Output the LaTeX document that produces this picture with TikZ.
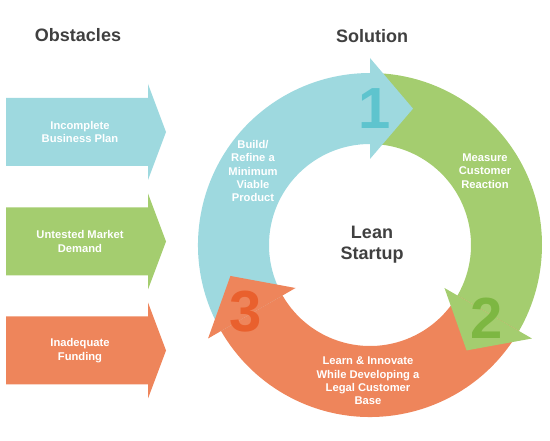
\documentclass[tikz,border=0pt]{standalone}
\usepackage{fontspec}
\setmainfont{Liberation Sans}
\definecolor{leanblue}{HTML}{9ED9DF}
\definecolor{leangreen}{HTML}{A4CD6F}
\definecolor{leanorange}{HTML}{EE855B}
\definecolor{numblue}{HTML}{5EC4CE}
\definecolor{numgreen}{HTML}{7DB742}
\definecolor{numorange}{HTML}{E9602D}
\definecolor{darktext}{HTML}{404040}
\tikzset{
	heading/.style = {font=\fontsize{18}{21}\selectfont\bfseries, text=darktext},
	whitetext/.style = {align=center, inner sep=0pt, text=white,
		font=\fontsize{11.2}{13.3}\selectfont\bfseries},% labels on the arrows
	stepnum/.style = {inner sep=0pt, font=\fontsize{58}{58}\selectfont\bfseries}
}
% obstacle arrow: centre y, colour
\newcommand{\obstacle}[2]{%
	\fill[#2] (6,#1-34) -- (148,#1-34) -- (148,#1-48) -- (166,#1)
		-- (148,#1+48) -- (148,#1+34) -- (6,#1+34) -- cycle;}

\begin{document}
\begin{tikzpicture}[x=1pt, y=1pt]
	\useasboundingbox (0,0) rectangle (550,440);
	\node[heading] (obstacles) at (78,405) {Obstacles};
	\node[heading] (solution) at (372,404) {Solution};
	% obstacles
	\obstacle{308}{leanblue}
	\obstacle{198.5}{leangreen}
	\obstacle{89.5}{leanorange}
	\node[whitetext] (plan) at (80,308) {Incomplete\\Business Plan};
	\node[whitetext] (demand) at (80,198.5) {Untested Market\\Demand};
	\node[whitetext] (funding) at (80,89.5) {Inadequate\\Funding};
	% the cycle
	\coordinate (hub) at (370,195);
	\begin{scope}[shift={(hub)}]
		\fill[leanblue] (210:172) arc[start angle=210, end angle=90, radius=172]
			-- (90:101) arc[start angle=90, end angle=210, radius=101] -- cycle;
		\fill[leangreen] (90:172) arc[start angle=90, end angle=-30, radius=172]
			-- (-30:101) arc[start angle=-30, end angle=90, radius=101] -- cycle;
		\fill[leanorange] (-30:172) arc[start angle=-30, end angle=-150, radius=172]
			-- (-150:101) arc[start angle=-150, end angle=-30, radius=101] -- cycle;
		% heads
		\fill[leanblue] (90:86) -- (72.5:143) -- (90:187) -- cycle;
		\fill[leangreen] (-30:86) -- (-47.5:143) -- (-30:187) -- cycle;
		\fill[leanorange] (210:86) -- (192.5:143) -- (210:187) -- cycle;
	\end{scope}
	\node[stepnum, text=numblue] (one) at (375,331) {1};
	\node[stepnum, text=numgreen] (two) at (487,122) {2};
	\node[stepnum, text=numorange] (three) at (246,128) {3};
	\node[whitetext] (build) at (253,269) {Build/\\Refine a\\Minimum\\Viable\\Product};
	\node[whitetext] (measure) at (485,269) {Measure\\Customer\\Reaction};
	\node[whitetext] (learn) at (368,59) {Learn \& Innovate\\While Developing a\\Legal Customer\\Base};
	\node[heading, align=center] (lean) at (372,195) {Lean\\Startup};
\end{tikzpicture}
\end{document}
